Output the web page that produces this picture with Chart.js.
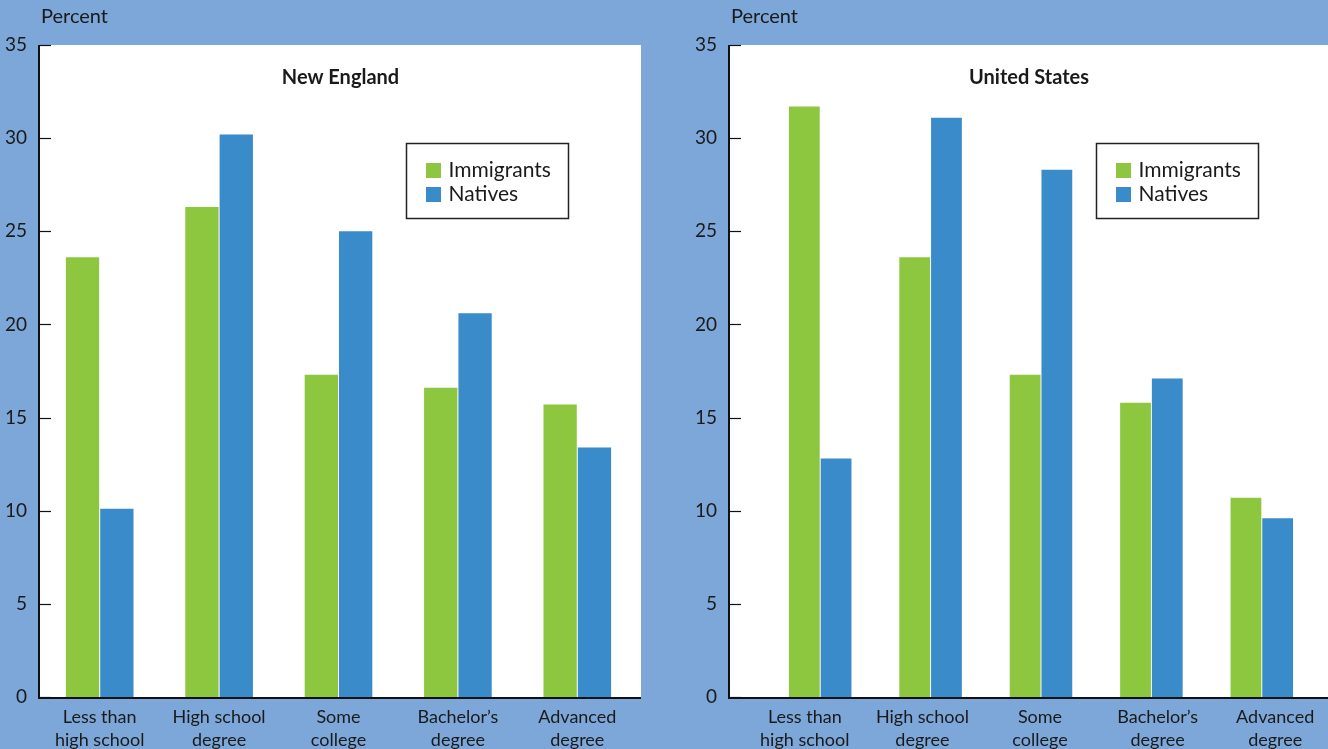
<!DOCTYPE html>
<html>
<head>
<meta charset="utf-8">
<script src="https://cdn.jsdelivr.net/npm/chart.js@4.4.1/dist/chart.umd.min.js"></script>
<style>
  html, body { margin: 0; padding: 0; background: #7ca7d8; }
  body { width: 1328px; height: 749px; position: relative; overflow: hidden; }
  .panel { position: absolute; top: 0; }
  #leftPanel { left: 0; }
  #rightPanel { left: 680px; }
</style>
</head>
<body>
<div class="panel" id="leftPanel"><canvas id="chartNE" width="680" height="749"></canvas></div>
<div class="panel" id="rightPanel"><canvas id="chartUS" width="664" height="749"></canvas></div>
<script>
// categories (two-line tick labels)
var categories = [
    ['Less than', 'high school'],
    ['High school', 'degree'],
    ['Some', 'college'],
    ['Bachelor\u2019s', 'degree'],
    ['Advanced', 'degree']
];
var seriesNames = ['Immigrants', 'Natives'];

// New England, percent
var neImmigrants = [23.6, 26.3, 17.3, 16.6, 15.7];
var neNatives    = [10.1, 30.2, 25.0, 20.6, 13.4];

// United States, percent
var usImmigrants = [31.7, 23.6, 17.3, 15.8, 10.7];
var usNatives    = [12.8, 31.1, 28.3, 17.1, 9.6];

var yMin = 0, yMax = 35, yStep = 5;

var GREEN = '#8dc63f';
var BLUE = '#3a8bca';
var FONT = 'Lato, "Open Sans", sans-serif';

Chart.defaults.font.family = FONT;
Chart.defaults.color = '#1a1a1a';

// bars sit on their own hidden category axis; it can be narrowed
// independently of the labelled axis (barInset = px trimmed left/right)
var barAxisSpan = {
    id: 'barAxisSpan',
    afterLayout: function (chart, args, opts) {
        var xb = chart.scales.xb, x = chart.scales.x;
        xb.left = x.left + opts.insetLeft;
        xb.right = x.right - opts.insetRight;
        xb.width = xb.right - xb.left;
        xb.configure();
    }
};

// white plot panel, axis line, inner tick marks, title, boxed legend
var panelDecor = {
    id: 'panelDecor',
    beforeDraw: function (chart, args, opts) {
        var ctx = chart.ctx, a = chart.chartArea;
        var left = a.left - opts.extendLeft;
        var right = a.right + opts.extendRight;
        ctx.save();
        ctx.fillStyle = '#ffffff';
        ctx.fillRect(left, a.top, right - left, a.bottom - a.top);
        ctx.restore();
    },
    afterDraw: function (chart, args, opts) {
        var ctx = chart.ctx, a = chart.chartArea;
        var yScale = chart.scales.y;
        var left = a.left - opts.extendLeft;
        var right = a.right + opts.extendRight;
        ctx.save();

        // tick marks pointing into the panel
        ctx.strokeStyle = '#111';
        ctx.lineWidth = 1.2;
        yScale.ticks.forEach(function (t) {
            var y = Math.round(yScale.getPixelForValue(t.value)) + 0.5;
            ctx.beginPath();
            ctx.moveTo(left, y);
            ctx.lineTo(left + 11, y);
            ctx.stroke();
        });

        // y axis and baseline
        ctx.lineWidth = 2;
        ctx.beginPath();
        ctx.moveTo(left - 1, a.top);
        ctx.lineTo(left - 1, a.bottom + 1);
        ctx.lineTo(right, a.bottom + 1);
        ctx.stroke();

        // axis unit
        ctx.fillStyle = '#1a1a1a';
        ctx.font = '20px ' + FONT;
        ctx.textBaseline = 'middle';
        ctx.textAlign = 'left';
        ctx.fillText('Percent', left + 1, 17);

        // panel title
        ctx.font = 'bold 20px ' + FONT;
        ctx.textAlign = 'center';
        ctx.fillText(opts.title, (left + right) / 2, 78);

        // legend box
        var bx = left + 366.5, by = 143.5, bw = 162, bh = 75;
        ctx.strokeStyle = '#222';
        ctx.lineWidth = 1.5;
        ctx.strokeRect(bx, by, bw, bh);
        ctx.font = '21px ' + FONT;
        ctx.textAlign = 'left';
        chart.data.datasets.forEach(function (ds, i) {
            var cy = 170 + i * 24;
            ctx.fillStyle = ds.backgroundColor;
            ctx.fillRect(bx + 19.5, cy - 7, 15, 15);
            ctx.fillStyle = '#1a1a1a';
            ctx.fillText(ds.label, bx + 42, cy);
        });
        ctx.restore();
    }
};

function makeChart(canvasId, title, immigrants, natives, layout) {
    var ctx = document.getElementById(canvasId).getContext('2d');
    return new Chart(ctx, {
        type: 'bar',
        data: {
            labels: categories,
            datasets: [
                { label: seriesNames[0], data: immigrants, backgroundColor: GREEN, xAxisID: 'xb' },
                { label: seriesNames[1], data: natives, backgroundColor: BLUE, xAxisID: 'xb' }
            ]
        },
        options: {
            responsive: false,
            animation: false,
            categoryPercentage: layout.catPct,
            barPercentage: 0.97,
            layout: { padding: { top: 45, right: layout.padRight, bottom: 0, left: 0 } },
            plugins: {
                legend: { display: false },
                tooltip: { enabled: false },
                barAxisSpan: { insetLeft: layout.barInsetLeft, insetRight: layout.barInsetRight },
                panelDecor: {
                    title: title,
                    extendLeft: layout.extendLeft,
                    extendRight: layout.extendRight
                }
            },
            scales: {
                x: {
                    type: 'category',
                    position: 'bottom',
                    grid: { display: false, drawTicks: false },
                    border: { display: false },
                    ticks: {
                        padding: 8,
                        font: { size: 18, lineHeight: 1.3 },
                        color: '#1a1a1a',
                        maxRotation: 0,
                        autoSkip: false
                    },
                    afterFit: function (scale) { scale.height = 52; }
                },
                xb: {
                    type: 'category',
                    position: 'bottom',
                    display: false
                },
                y: {
                    min: yMin,
                    max: yMax,
                    grid: { display: false, drawTicks: false },
                    border: { display: false },
                    ticks: {
                        stepSize: yStep,
                        padding: layout.tickPad,
                        font: { size: 19 },
                        color: '#1a1a1a'
                    },
                    afterFit: function (scale) {
                        scale.width = layout.yWidth;
                        scale.paddingTop = 0;
                        scale.paddingBottom = 0;
                    }
                }
            }
        },
        plugins: [barAxisSpan, panelDecor]
    });
}

makeChart('chartNE', 'New England', neImmigrants, neNatives, {
    yWidth: 40, tickPad: 13, padRight: 43, extendLeft: 0, extendRight: 4,
    barInsetLeft: 0, barInsetRight: 0, catPct: 0.575
});

makeChart('chartUS', 'United States', usImmigrants, usNatives, {
    yWidth: 66, tickPad: 29, padRight: 10, extendLeft: 16, extendRight: -6,
    barInsetLeft: 19, barInsetRight: 17, catPct: 0.575
});
</script>
</body>
</html>
